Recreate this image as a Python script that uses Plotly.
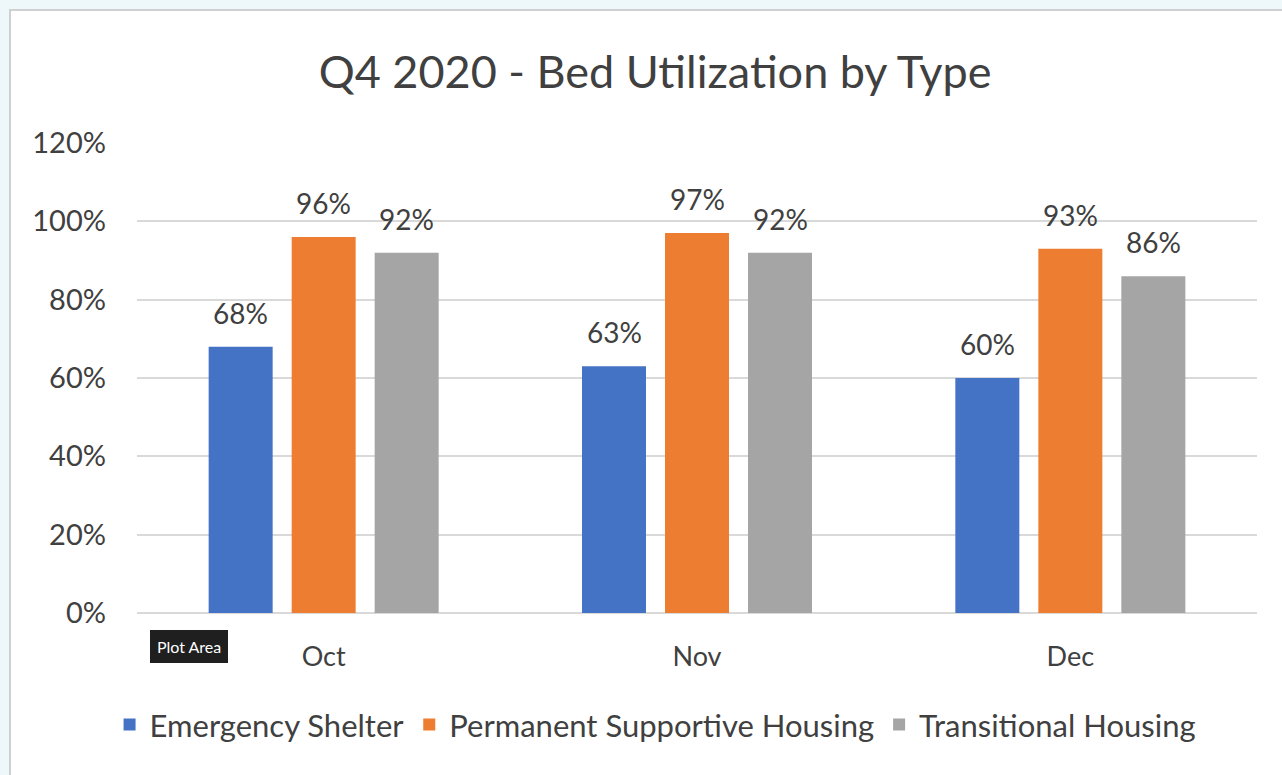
import plotly.graph_objects as go

months = ["Oct", "Nov", "Dec"]
series_names = ["Emergency Shelter", "Permanent Supportive Housing", "Transitional Housing"]
emergency = [0.68, 0.63, 0.60]
permanent = [0.96, 0.97, 0.93]
transitional = [0.92, 0.92, 0.86]
colors = ["#4472C4", "#ED7D31", "#A5A5A5"]
y_ticks = [0, 0.2, 0.4, 0.6, 0.8, 1.0, 1.2]
y_tick_labels = ["0%", "20%", "40%", "60%", "80%", "100%", "120%"]

FONT = "Lato"
TXT = "#404040"

fig = go.Figure()
all_vals = [emergency, permanent, transitional]
for name, vals, col in zip(series_names, all_vals, colors):
    fig.add_trace(go.Bar(x=months, y=vals, name=name, marker=dict(color=col, line=dict(width=0))))

annotations = []
offsets = [-83, 0, 83]
for vals, off in zip(all_vals, offsets):
    for m, v in zip(months, vals):
        annotations.append(dict(x=m, y=v, xref="x", yref="y", text=f"{round(v*100)}%",
                                showarrow=False, xshift=off, yshift=15, yanchor="bottom",
                                font=dict(family=FONT, size=28, color=TXT)))

annotations.append(dict(xref="paper", yref="paper", x=0.0464, y=-0.072, xanchor="center",
                        yanchor="middle", text="Plot Area",
                        showarrow=False, bgcolor="#1f1f1f", bordercolor="#1f1f1f", borderpad=6,
                        font=dict(family=FONT, size=16, color="white")))

fig.update_layout(
    width=1282, height=775,
    margin=dict(l=137, r=25, t=143, b=162),
    paper_bgcolor="#EEF7FA",
    plot_bgcolor="rgba(0,0,0,0)",
    barmode="group", bargap=0.333, bargroupgap=0.229,
    title=dict(text="Q4 2020 - Bed Utilization by Type", x=0.511, xanchor="center",
               y=0.907, yanchor="middle", font=dict(family=FONT, size=45, color=TXT)),
    font=dict(family=FONT, color=TXT),
    xaxis=dict(showgrid=False, ticks="", ticklabelstandoff=25,
               tickfont=dict(family=FONT, size=27, color=TXT), showline=False),
    yaxis=dict(range=[0, 1.2], tickvals=y_ticks, ticktext=y_tick_labels,
               showgrid=True, gridcolor="#D9D9D9", gridwidth=1.5,
               zeroline=True, zerolinecolor="#D9D9D9", zerolinewidth=1.5,
               ticks="", ticklabelstandoff=30,
               tickfont=dict(family=FONT, size=29, color=TXT)),
    legend=dict(orientation="h", x=0.463, xanchor="center", y=-0.238, yanchor="middle",
                font=dict(family=FONT, size=31, color=TXT), itemwidth=30,
                bgcolor="rgba(0,0,0,0)"),
    annotations=annotations,
    shapes=[dict(type="rect", xref="paper", yref="paper", x0=-0.1134, x1=1.05,
                 y0=-0.4, y1=1.283, fillcolor="white", line=dict(color="#D0D0D0", width=2),
                 layer="below")],
    showlegend=True,
)

fig.write_html("out.html", config={"displayModeBar": False},
               post_script="document.body.style.margin='0';document.body.style.background='#EEF7FA';")
